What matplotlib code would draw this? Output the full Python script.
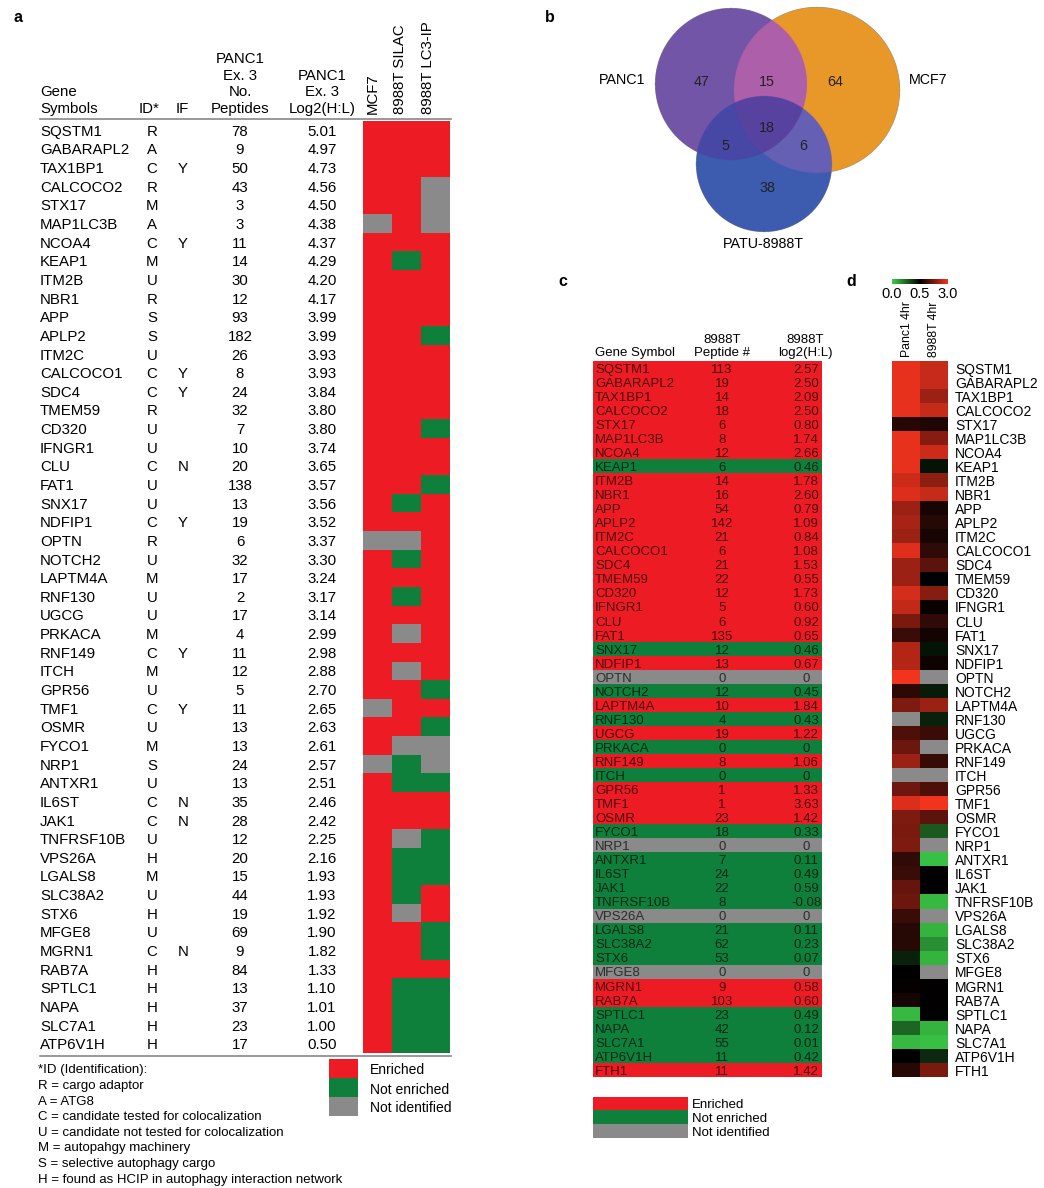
import numpy as np
import matplotlib
matplotlib.use("Agg")
import matplotlib.pyplot as plt
from matplotlib.colors import ListedColormap, LinearSegmentedColormap, TwoSlopeNorm, to_rgba

plt.rcParams['font.family'] = ['Liberation Sans', 'DejaVu Sans']

W, H = 1044, 1188

# ---- panel a: PANC1 table ----
genes_a = ['SQSTM1', 'GABARAPL2', 'TAX1BP1', 'CALCOCO2', 'STX17', 'MAP1LC3B', 'NCOA4', 'KEAP1',
           'ITM2B', 'NBR1', 'APP', 'APLP2', 'ITM2C', 'CALCOCO1', 'SDC4', 'TMEM59', 'CD320',
           'IFNGR1', 'CLU', 'FAT1', 'SNX17', 'NDFIP1', 'OPTN', 'NOTCH2', 'LAPTM4A', 'RNF130',
           'UGCG', 'PRKACA', 'RNF149', 'ITCH', 'GPR56', 'TMF1', 'OSMR', 'FYCO1', 'NRP1',
           'ANTXR1', 'IL6ST', 'JAK1', 'TNFRSF10B', 'VPS26A', 'LGALS8', 'SLC38A2', 'STX6',
           'MFGE8', 'MGRN1', 'RAB7A', 'SPTLC1', 'NAPA', 'SLC7A1', 'ATP6V1H']
id_a = ['R', 'A', 'C', 'R', 'M', 'A', 'C', 'M', 'U', 'R', 'S', 'S', 'U', 'C', 'C', 'R', 'U',
        'U', 'C', 'U', 'U', 'C', 'R', 'U', 'M', 'U', 'U', 'M', 'C', 'M', 'U', 'C', 'U', 'M', 'S',
        'U', 'C', 'C', 'U', 'H', 'M', 'U', 'H', 'U', 'C', 'H', 'H', 'H', 'H', 'H']
if_a = ['', '', 'Y', '', '', '', 'Y', '', '', '', '', '', '', 'Y', 'Y', '', '', '', 'N', '',
        '', 'Y', '', '', '', '', '', '', 'Y', '', '', 'Y', '', '', '', '', 'N', 'N', '', '',
        '', '', '', '', 'N', '', '', '', '', '']
peptides_a = [78, 9, 50, 43, 3, 3, 11, 14, 30, 12, 93, 182, 26, 8, 24, 32, 7, 10, 20, 138, 13,
              19, 6, 32, 17, 2, 17, 4, 11, 12, 5, 11, 13, 13, 24, 13, 35, 28, 12, 20, 15, 44,
              19, 69, 9, 84, 13, 37, 23, 17]
log2_a = [5.01, 4.97, 4.73, 4.56, 4.50, 4.38, 4.37, 4.29, 4.20, 4.17, 3.99, 3.99, 3.93, 3.93,
          3.84, 3.80, 3.80, 3.74, 3.65, 3.57, 3.56, 3.52, 3.37, 3.30, 3.24, 3.17, 3.14, 2.99,
          2.98, 2.88, 2.70, 2.65, 2.63, 2.61, 2.57, 2.51, 2.46, 2.42, 2.25, 2.16, 1.93, 1.93,
          1.92, 1.90, 1.82, 1.33, 1.10, 1.01, 1.00, 0.50]
# E = enriched, N = not enriched, X = not identified (MCF7, 8988T SILAC, 8988T LC3-IP)
status_a = ['EEE', 'EEE', 'EEE', 'EEX', 'EEX', 'XEX', 'EEE', 'ENE', 'EEE', 'EEE', 'EEE', 'EEN',
            'EEE', 'EEE', 'EEE', 'EEE', 'EEN', 'EEE', 'EEE', 'EEN', 'ENE', 'EEE', 'XXE', 'ENE',
            'EEE', 'ENE', 'EEE', 'EXE', 'EEE', 'EXE', 'EEN', 'XEE', 'EEN', 'EXX', 'XNX', 'ENN',
            'EEE', 'EEE', 'EXN', 'ENN', 'ENN', 'ENE', 'EXE', 'EEN', 'EEN', 'EEE', 'ENN', 'ENN',
            'ENN', 'ENN']
cols_a = ['MCF7', '8988T SILAC', '8988T LC3-IP']
id_notes = ['*ID (Identification):', 'R = cargo adaptor', 'A = ATG8',
            'C = candidate tested for colocalization', 'U = candidate not tested for colocalization',
            'M = autopahgy machinery', 'S = selective autophagy cargo',
            'H = found as HCIP in autophagy interaction network']

# ---- panel b: venn ----
venn_sets = ['PANC1', 'MCF7', 'PATU-8988T']
venn_counts = {'100': 47, '010': 64, '001': 38, '110': 15, '101': 5, '011': 6, '111': 18}

# ---- panel c: 8988T table ----
genes_c = genes_a[:] + ['FTH1']
peptides_c = [113, 19, 14, 18, 6, 8, 12, 6, 14, 16, 54, 142, 21, 6, 21, 22, 12, 5, 6, 135, 12,
              13, 0, 12, 10, 4, 19, 0, 8, 0, 1, 1, 23, 18, 0, 7, 24, 22, 8, 0, 21, 62, 53, 0, 9,
              103, 23, 42, 55, 11, 11]
log2_c = [2.57, 2.50, 2.09, 2.50, 0.80, 1.74, 2.66, 0.46, 1.78, 2.60, 0.79, 1.09, 0.84, 1.08,
          1.53, 0.55, 1.73, 0.60, 0.92, 0.65, 0.46, 0.67, 0, 0.45, 1.84, 0.43, 1.22, 0, 1.06, 0,
          1.33, 3.63, 1.42, 0.33, 0, 0.11, 0.49, 0.59, -0.08, 0, 0.11, 0.23, 0.07, 0, 0.58, 0.60,
          0.49, 0.12, 0.01, 0.42, 1.42]
status_c = 'EEEEEEENEEEEEEEEEEEENEXNENENENEEENXNNNNXNNNXEENNNNE'

# ---- panel d: 4hr heatmap ----
panc1_4hr = [2.9, 2.9, 2.9, 2.9, 0.88, 2.9, 2.9, 2.9, 2.6, 2.75, 2.1, 2.2, 2.1, 2.8, 2.1, 2.1,
             2.7, 2.5, 1.75, 1.1, 2.35, 2.35, 3.0, 0.95, 1.8, np.nan, 1.3, 1.6, 2.1, np.nan,
             1.65, 2.75, 1.8, 1.75, 1.8, 1.0, 1.1, 1.55, 1.6, 1.1, 0.9, 0.9, 0.42, 0.5, 0.55,
             0.75, 0.05, 0.25, 0.05, 0.5, 0.9]
t8988_4hr = [2.55, 2.55, 2.1, 2.55, 0.8, 1.9, 2.6, 0.45, 1.95, 2.55, 0.75, 0.9, 0.75, 1.0, 1.45,
             0.5, 1.9, 0.6, 1.0, 0.7, 0.45, 0.65, np.nan, 0.43, 2.1, 0.42, 1.1, np.nan, 1.05,
             np.nan, 1.3, 3.0, 1.45, 0.28, np.nan, 0.03, 0.5, 0.5, 0.05, np.nan, 0.06, 0.15, 0.06,
             np.nan, 0.52, 0.52, 0.5, 0.06, 0.03, 0.4, 1.75]
cols_d = ['Panc1 4hr', '8988T 4hr']

RED, GREEN, GREY = '#ed1c24', '#0e803b', '#8a8a8a'
code = {'E': 0, 'N': 1, 'X': 2}
status_cmap = ListedColormap([RED, GREEN, GREY])

fig = plt.figure(figsize=(W / 100, H / 100), dpi=100)


def px_axes(x0, y0, x1, y1, off=True):
    ax = fig.add_axes([x0 / W, 1 - y1 / H, (x1 - x0) / W, (y1 - y0) / H])
    if off:
        ax.set_axis_off()
    return ax


base = px_axes(0, 0, W, H)
base.set_xlim(0, W)
base.set_ylim(H, 0)

FS = 10.8
# panel labels
for lab, x, y in [('a', 14, 18), ('b', 545, 18), ('c', 558, 282), ('d', 846, 282)]:
    base.text(x, y, lab, fontsize=11.5, fontweight='bold', va='center', ha='left')

# ---------------- panel a ----------------
base.text(40, 116, 'Gene\nSymbols', fontsize=FS, ha='left', va='bottom', linespacing=1.25)
base.text(149, 113, 'ID*', fontsize=FS, ha='center', va='baseline')
base.text(182, 113, 'IF', fontsize=FS, ha='center', va='baseline')
base.text(240, 116, 'PANC1\nEx. 3\nNo.\nPeptides', fontsize=FS, ha='center', va='bottom',
          multialignment='center', linespacing=1.25)
base.text(322, 116, 'PANC1\nEx. 3\nLog2(H:L)', fontsize=FS, ha='center', va='bottom',
          multialignment='center', linespacing=1.25)
for name, x in zip(cols_a, [373, 400, 428]):
    base.text(x, 114, name, fontsize=FS, rotation=90, ha='center', va='bottom')
base.plot([40, 451], [119, 119], color='#888888', lw=1.2)
base.plot([40, 451], [1055.5, 1055.5], color='#888888', lw=1.2)

n_a = len(genes_a)
hm_a = px_axes(363, 121, 450, 1053)
grid_a = np.array([[code[s] for s in row] for row in status_a])
hm_a.imshow(grid_a, cmap=status_cmap, vmin=0, vmax=2, aspect='auto', interpolation='nearest')

tab_a = px_axes(0, 121, W, 1053)
tab_a.set_xlim(0, W)
tab_a.set_ylim(n_a, 0)
for i in range(n_a):
    y = i + 0.5
    tab_a.text(40, y, genes_a[i], fontsize=FS, ha='left', va='center_baseline')
    tab_a.text(152, y, id_a[i], fontsize=FS, ha='center', va='center_baseline')
    tab_a.text(183, y, if_a[i], fontsize=FS, ha='center', va='center_baseline')
    tab_a.text(240, y, str(peptides_a[i]), fontsize=FS, ha='center', va='center_baseline')
    tab_a.text(322, y, f'{log2_a[i]:.2f}', fontsize=FS, ha='center', va='center_baseline')

# legend a
leg_labels = ['Enriched', 'Not enriched', 'Not identified']
leg_a = px_axes(329, 1059, 358, 1116)
leg_a.imshow(np.arange(3).reshape(3, 1), cmap=status_cmap, vmin=0, vmax=2, aspect='auto')
for k, lab in enumerate(leg_labels):
    base.text(370, 1069 + k * 19, lab, fontsize=10, ha='left', va='center_baseline')
for k, line in enumerate(id_notes):
    base.text(38, 1069 + k * 15.6, line, fontsize=9.5, ha='left', va='center_baseline')

# ---------------- panel b (venn) ----------------
centers = [(731, 84, 76), (817, 90, 83), (764, 164, 68)]
region_col = {'100': '#7255a8', '010': '#e8972a', '001': '#3d5bb0', '110': '#ad5fa9',
              '101': '#4747a6', '011': '#6560b4', '111': '#5843a0'}
vx0, vx1, vy0, vy1 = 640, 910, 0, 240
vax = px_axes(vx0, vy0, vx1, vy1)
xx, yy = np.meshgrid(np.linspace(vx0, vx1, 1080), np.linspace(vy0, vy1, 960))
masks = [(xx - cx) ** 2 + (yy - cy) ** 2 <= r ** 2 for cx, cy, r in centers]
img = np.zeros(xx.shape + (4,))
for key, col in region_col.items():
    m = np.ones(xx.shape, bool)
    for bit, mk in zip(key, masks):
        m &= mk if bit == '1' else ~mk
    img[m] = to_rgba(col)
vax.imshow(img, extent=(vx0, vx1, vy1, vy0), interpolation='antialiased')
vax.set_xlim(vx0, vx1)
vax.set_ylim(vy1, vy0)
num_pos = {'100': (702, 80), '110': (767, 80), '010': (835, 80), '111': (767, 127),
           '101': (725, 145), '011': (803, 145), '001': (767, 186)}
for key, (x, y) in num_pos.items():
    vax.text(x, y, str(venn_counts[key]), fontsize=10.3, ha='center', va='center_baseline',
             color='#222222')
base.text(622, 79, venn_sets[0], fontsize=10.3, ha='center', va='center_baseline')
base.text(928, 79, venn_sets[1], fontsize=10.3, ha='center', va='center_baseline')
vax.text(763, 243, venn_sets[2], fontsize=10.3, ha='center', va='center_baseline',
         clip_on=False)

# ---------------- panel c ----------------
FC = 9.5
base.text(595, 359, 'Gene Symbol', fontsize=FC, ha='left', va='bottom')
base.text(722, 359, '8988T\nPeptide #', fontsize=FC, ha='center', va='bottom',
          multialignment='center', linespacing=1.1)
base.text(805, 359, '8988T\nlog2(H:L)', fontsize=FC, ha='center', va='bottom',
          multialignment='center', linespacing=1.1)
n_c = len(genes_c)
hm_c = px_axes(593, 361, 822, 1077)
hm_c.imshow(np.array([code[s] for s in status_c]).reshape(-1, 1), cmap=status_cmap,
            vmin=0, vmax=2, aspect='auto', interpolation='nearest')
tab_c = px_axes(0, 361, W, 1077)
tab_c.set_xlim(0, W)
tab_c.set_ylim(n_c, 0)
for i in range(n_c):
    y = i + 0.52
    val = '0' if (log2_c[i] == 0 and peptides_c[i] == 0) else f'{log2_c[i]:.2f}'
    kw = dict(fontsize=FC, va='center_baseline', color='black', alpha=0.68)
    tab_c.text(595, y, genes_c[i], ha='left', **kw)
    tab_c.text(722, y, str(peptides_c[i]), ha='center', **kw)
    tab_c.text(806, y, val, ha='center', **kw)

leg_c = px_axes(593, 1097, 688, 1138)
leg_c.imshow(np.arange(3).reshape(3, 1), cmap=status_cmap, vmin=0, vmax=2, aspect='auto')
for k, lab in enumerate(leg_labels):
    base.text(692, 1104 + k * 13.7, lab, fontsize=FC, ha='left', va='center_baseline')

# ---------------- panel d ----------------
gkr = LinearSegmentedColormap.from_list('gkr', ['#3ccc48', '#000000', '#f2341f'])
gkr.set_bad(GREY)
norm = TwoSlopeNorm(vmin=0.0, vcenter=0.5, vmax=3.0)
hm_d = px_axes(892, 361, 948, 1077)
data_d = np.ma.masked_invalid(np.column_stack([panc1_4hr, t8988_4hr]))
im = hm_d.imshow(data_d, cmap=gkr, norm=norm, aspect='auto', interpolation='nearest')
for name, x in zip(cols_d, [907, 934]):
    base.text(x, 357, name, fontsize=8.8, rotation=90, ha='center', va='bottom')
tab_d = px_axes(0, 361, W, 1077)
tab_d.set_xlim(0, W)
tab_d.set_ylim(n_c, 0)
for i in range(n_c):
    tab_d.text(955, i + 0.52, genes_c[i], fontsize=10, ha='left', va='center_baseline')

cax = px_axes(892, 279, 948, 284, off=False)
cb = fig.colorbar(im, cax=cax, orientation='horizontal', ticks=[0.0, 0.5, 3.0])
cb.outline.set_visible(False)
cb.ax.tick_params(length=0, pad=2, labelsize=10.5)
cb.ax.set_xticklabels(['0.0', '0.5', '3.0'])

fig.savefig('out.png', dpi=100, facecolor='white')
